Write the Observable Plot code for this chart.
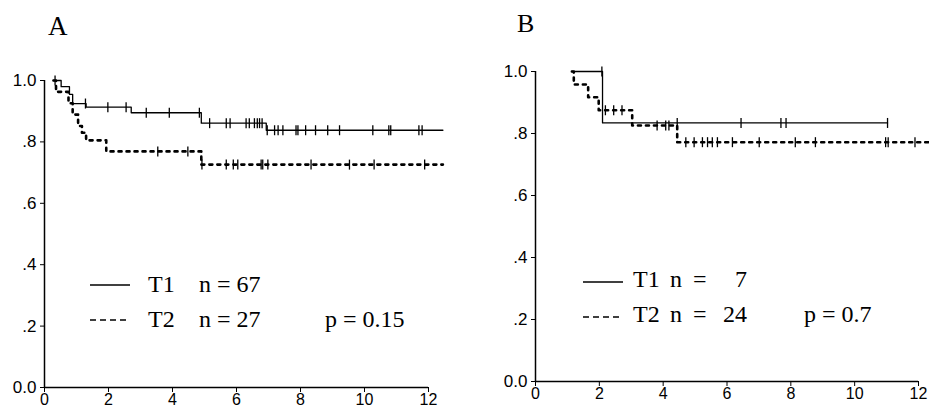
<!DOCTYPE html>
<html><head><meta charset="utf-8">
<script src="https://cdn.jsdelivr.net/npm/d3@7"></script>
<script src="https://cdn.jsdelivr.net/npm/@observablehq/plot@0.6"></script>
<style>
body{margin:0;background:#fff;}
#wrap{position:relative;width:929px;height:408px;overflow:hidden;background:#fff;}
#wrap > svg{position:absolute;top:0;}
</style></head><body><div id="wrap"></div>
<script>
// ---- data (years vs. survival probability) ----
const xTicks = [0, 2, 4, 6, 8, 10, 12];
const yTicks = [0, 0.2, 0.4, 0.6, 0.8, 1.0];
const panelLabels = ["A", "B"];

// Panel A, T1 (solid)
const aT1Time = [0.28, 0.52, 0.78, 0.88, 1.3, 2.71, 4.9, 6.93];
const aT1Surv = [1.0, 0.98, 0.955, 0.925, 0.913, 0.895, 0.861, 0.838];
const aT1End = 12.45;
const aT1Cens = [0.33, 1.28, 1.98, 2.55, 3.18, 3.9, 4.84, 5.16, 5.68, 5.8, 6.3, 6.4, 6.56, 6.65, 6.72, 6.8, 6.96, 7.19, 7.3, 7.45, 7.86, 7.92, 8.16, 8.47, 8.85, 9.22, 10.26, 10.76, 10.82, 11.7, 11.8];
// Panel A, T2 (dashed)
const aT2Time = [0.28, 0.36, 0.75, 0.88, 1.05, 1.17, 1.3, 1.93, 4.9];
const aT2Surv = [1.0, 0.963, 0.926, 0.889, 0.852, 0.83, 0.805, 0.769, 0.726];
const aT2End = 12.45;
const aT2Cens = [3.54, 4.48, 4.92, 5.68, 5.9, 6.04, 6.77, 6.82, 6.98, 8.33, 9.53, 10.3, 11.88];

// Panel B, T1 (solid)
const bT1Time = [1.14, 2.1];
const bT1Surv = [1.0, 0.834];
const bT1End = 11.03;
const bT1Cens = [2.08, 4.44, 6.44, 7.69, 7.85, 11.03];
// Panel B, T2 (dashed)
const bT2Time = [1.14, 1.2, 1.65, 1.98, 3.03, 4.44];
const bT2Surv = [1.0, 0.958, 0.917, 0.875, 0.826, 0.772];
const bT2End = 12.35;
const bT2Cens = [2.19, 2.45, 2.71, 3.81, 4.08, 4.18, 4.71, 4.97, 5.23, 5.39, 5.54, 5.7, 6.17, 7.01, 8.14, 8.77, 10.97, 11.05, 11.89];

// Legends
const legendGroups = ["T1", "T2"];
const legendNA = ["n = 67", "n = 27"];
const legendNB = ["7", "24"];
const pValues = ["p = 0.15", "p = 0.7"];

// ---- helpers ----
function survAt(times, survs, t) {
  let s = survs[0];
  for (let i = 0; i < times.length; i++) if (times[i] <= t) s = survs[i];
  return s;
}
function curvePts(times, survs, end) {
  const pts = times.map((t, i) => ({t, s: survs[i]}));
  pts.push({t: end, s: survs[survs.length - 1]});
  return pts;
}
const tickSym = {draw(ctx, size) { const r = Math.sqrt(size / Math.PI); ctx.moveTo(0, -r); ctx.lineTo(0, r); }};
function yFmt(d) { return d === 0 ? "0.0" : d === 1 ? "1.0" : d3.format(".1f")(d).replace(/^0/, ""); }

function panel({width, marginLeft, marginRight, marginTop, marginBottom, series}) {
  const marks = [
    Plot.ruleX([0], {stroke: "black", strokeWidth: 1.5}),
    Plot.ruleY([0], {stroke: "black", strokeWidth: 1.5}),
    Plot.axisX({ticks: xTicks, tickSize: 5, tickPadding: 1, fontSize: 16, tickFormat: d => String(d), label: null}),
    Plot.axisY({ticks: yTicks, tickSize: 4, tickPadding: 4, fontSize: 17, tickFormat: yFmt, label: null})
  ];
  for (const s of series) {
    const lineOpts = {x: "t", y: "s", curve: "step-after", stroke: "black", strokeWidth: s.dashed ? 2.6 : 1.3};
    if (s.dashed) lineOpts.strokeDasharray = "3,5";
    marks.push(Plot.line(curvePts(s.times, s.survs, s.end), lineOpts));
    marks.push(Plot.dot(s.cens.map(t => ({t, s: survAt(s.times, s.survs, t)})),
      {x: "t", y: "s", symbol: tickSym, r: 5, stroke: "black", strokeWidth: 1.3, fill: "none"}));
  }
  return Plot.plot({
    width, height: 408, marginLeft, marginRight, marginTop, marginBottom,
    x: {domain: [0, 12], label: null},
    y: {domain: [0, 1], label: null},
    style: {fontFamily: "'Liberation Sans', Arial, sans-serif", fontSize: "17px", color: "black", background: "transparent", overflow: "visible"},
    marks
  });
}

const wrap = document.getElementById("wrap");
const svgA = panel({width: 470, marginLeft: 44, marginRight: 42, marginTop: 80, marginBottom: 21,
  series: [
    {times: aT1Time, survs: aT1Surv, end: aT1End, cens: aT1Cens, dashed: false},
    {times: aT2Time, survs: aT2Surv, end: aT2End, cens: aT2Cens, dashed: true}
  ]});
svgA.style.left = "0px";
wrap.appendChild(svgA);
const svgB = panel({width: 459, marginLeft: 65, marginRight: 11, marginTop: 71, marginBottom: 27,
  series: [
    {times: bT1Time, survs: bT1Surv, end: bT1End, cens: bT1Cens, dashed: false},
    {times: bT2Time, survs: bT2Surv, end: bT2End, cens: bT2Cens, dashed: true}
  ]});
svgB.style.left = "470px";
wrap.appendChild(svgB);

// ---- overlay: panel letters and in-plot legends ----
const ov = d3.select(wrap).append("svg").attr("width", 929).attr("height", 408)
  .style("left", "0px").style("pointer-events", "none")
  .attr("font-family", "'Liberation Serif', 'Times New Roman', serif").attr("fill", "black");
ov.append("text").attr("x", 48).attr("y", 35).attr("font-size", 27).text(panelLabels[0]);
ov.append("text").attr("x", 517).attr("y", 32).attr("font-size", 26).text(panelLabels[1]);

function legendLine(x1, x2, y, dashed) {
  const l = ov.append("line").attr("x1", x1).attr("x2", x2).attr("y1", y).attr("y2", y)
    .attr("stroke", "black").attr("stroke-width", 1.5);
  if (dashed) l.attr("stroke-dasharray", "6,4");
}
function txt(x, y, s) { ov.append("text").attr("x", x).attr("y", y).attr("font-size", 24).text(s); }

// Panel A legend
legendLine(90, 130, 285, false);
legendLine(90, 130, 320, true);
txt(148, 292, legendGroups[0]); txt(199, 292, legendNA[0]);
txt(148, 327, legendGroups[1]); txt(199, 327, legendNA[1]);
txt(325, 327, pValues[0]);

// Panel B legend
legendLine(583, 623, 282, false);
legendLine(583, 623, 317, true);
txt(633, 287, legendGroups[0]); txt(670, 287, "n"); txt(693, 287, "="); txt(735, 287, legendNB[0]);
txt(633, 322, legendGroups[1]); txt(670, 322, "n"); txt(693, 322, "="); txt(723, 322, legendNB[1]);
txt(804, 322, pValues[1]);
</script></body></html>
